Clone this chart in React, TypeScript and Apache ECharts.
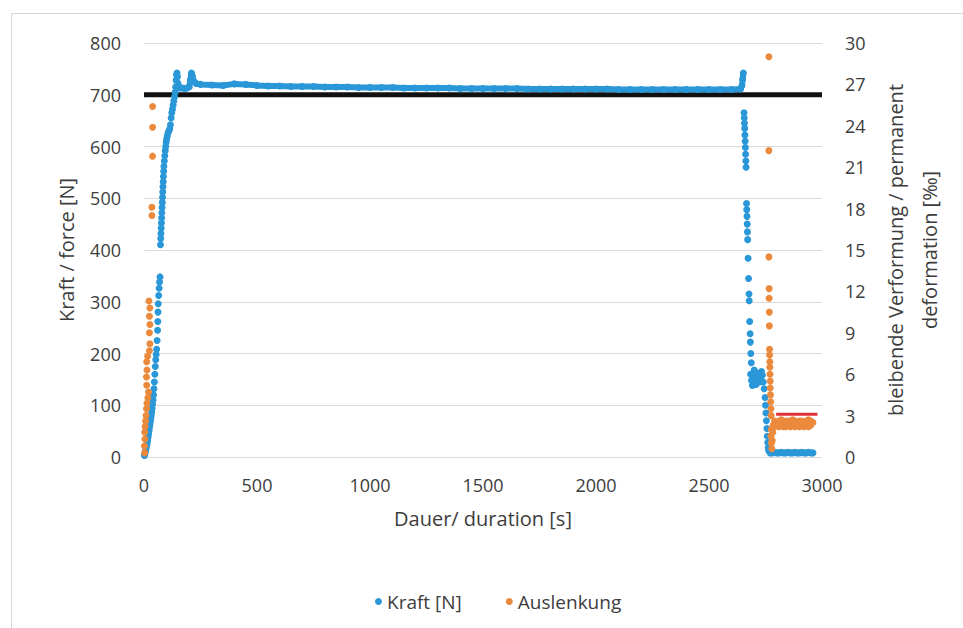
import React, { useEffect, useRef } from "react";
import * as echarts from "echarts";

// ---- data ----
const xTicks = [0, 500, 1000, 1500, 2000, 2500, 3000];
const forceTicks = [0, 100, 200, 300, 400, 500, 600, 700, 800];
const deformTicks = [0, 3, 6, 9, 12, 15, 18, 21, 24, 27, 30];

// Kraft [N]: loading ramp (time s, force N)
const kraftRamp: number[][] = [
  [2, 3], [4, 6], [6, 10], [8, 14], [10, 18], [12, 22], [14, 27], [16, 32], [18, 38], [20, 44],
  [22, 50], [24, 56], [26, 62], [28, 68], [30, 74], [32, 80], [34, 87], [36, 94], [38, 102], [40, 110],
  [42, 120], [44, 132], [46, 145], [48, 160], [50, 175], [52, 188], [54, 198], [56, 208], [58, 225],
  [60, 245], [61, 262], [62, 280], [63, 296], [65, 312], [67, 326], [69, 338], [71, 348],
  [73, 410], [74, 422], [75, 432], [76, 442], [77, 452], [78, 462], [79, 472], [80, 482], [81, 492],
  [82, 502], [83, 512], [84, 522], [85, 532], [86, 542], [87, 552], [88, 562], [90, 572], [92, 582],
  [94, 592], [96, 600], [98, 608], [100, 614], [103, 620], [106, 626], [110, 630], [114, 634],
  [117, 642], [120, 655], [123, 665], [126, 672], [129, 680], [132, 688], [135, 696], [138, 705],
  [140, 715], [142, 728], [144, 738], [146, 742], [148, 735]
];

// Kraft [N]: holding plateau
const kraftPlateau: number[][] = [
  [150, 722], [155, 715], [160, 713], [170, 713], [180, 712], [190, 713], [200, 715], [205, 728],
  [210, 742], [214, 736], [220, 726], [230, 722], [250, 720], [300, 719], [350, 718], [400, 721],
  [450, 720], [500, 718], [550, 717], [600, 717], [650, 716], [700, 716], [750, 716], [800, 715],
  [850, 715], [900, 715], [950, 714], [1000, 714], [1050, 714], [1100, 714], [1150, 713], [1200, 713],
  [1250, 713], [1300, 713], [1350, 713], [1400, 712], [1450, 712], [1500, 712], [1550, 712],
  [1600, 712], [1650, 712], [1700, 711], [1750, 711], [1800, 711], [1850, 711], [1900, 711],
  [1950, 711], [2000, 711], [2050, 711], [2100, 710], [2150, 710], [2200, 710], [2250, 710],
  [2300, 710], [2350, 710], [2400, 710], [2450, 710], [2500, 710], [2550, 710], [2600, 710],
  [2640, 711], [2646, 718], [2649, 730], [2652, 742]
];

// Kraft [N]: unloading
const kraftDrop: number[][] = [
  [2655, 665], [2656, 655], [2657, 645], [2658, 635], [2659, 622], [2660, 610], [2661, 598],
  [2662, 585], [2663, 572], [2664, 560], [2666, 490], [2667, 478], [2668, 465], [2669, 450],
  [2670, 435], [2671, 420], [2673, 384], [2675, 345], [2677, 315], [2678, 302], [2680, 262],
  [2682, 238], [2683, 222], [2685, 200], [2687, 182], [2684, 160], [2688, 148], [2692, 138],
  [2696, 155], [2700, 168], [2704, 152], [2708, 140], [2712, 150], [2716, 162], [2720, 155],
  [2724, 145], [2728, 152], [2732, 165], [2736, 158], [2740, 145], [2744, 132], [2748, 115],
  [2750, 100], [2752, 85], [2754, 70], [2756, 55], [2758, 40], [2760, 28], [2762, 18], [2764, 12]
];

// Kraft [N]: unloaded rest
const kraftRest: number[][] = [
  [2770, 8], [2780, 8], [2790, 9], [2800, 8], [2810, 8], [2820, 9], [2830, 8], [2840, 8],
  [2850, 9], [2860, 8], [2870, 8], [2880, 9], [2890, 8], [2900, 8], [2910, 9], [2920, 8],
  [2930, 8], [2940, 9], [2950, 8], [2960, 8]
];

// Auslenkung [‰] (right axis)
const auslenkungStart: number[][] = [
  [3, 0.3], [2, 0.8], [4, 1.3], [3, 1.8], [5, 2.2], [7, 2.6], [9, 3.0], [11, 3.5], [13, 3.9],
  [17, 4.3], [20, 4.7], [12, 5.2], [11, 5.8], [13, 6.3], [12, 6.9], [16, 7.3], [24, 7.7],
  [26, 8.2], [24, 9.0], [26, 9.6], [24, 10.2], [26, 10.8], [22, 11.3], [35, 17.5], [35, 18.1],
  [38, 21.8], [38, 23.9], [38, 25.4]
];

const auslenkungEnd: number[][] = [
  [2765, 29.0], [2765, 22.2], [2765, 14.5], [2766, 12.2], [2766, 11.5], [2767, 10.5], [2767, 9.5],
  [2768, 7.8], [2768, 7.4], [2769, 6.9], [2769, 6.5], [2770, 6.0], [2771, 5.5], [2771, 5.0],
  [2772, 4.5], [2773, 4.0], [2774, 3.5], [2775, 3.0], [2776, 2.0], [2774, 1.5], [2776, 1.0],
  [2778, 0.6], [2780, 1.2], [2782, 1.8], [2784, 2.3],
  [2790, 2.6], [2800, 2.5], [2810, 2.6], [2820, 2.7], [2830, 2.5], [2840, 2.6], [2850, 2.6],
  [2860, 2.5], [2870, 2.7], [2880, 2.6], [2890, 2.5], [2900, 2.6], [2910, 2.6], [2920, 2.5],
  [2930, 2.6], [2940, 2.7], [2950, 2.6], [2960, 2.5],
  [2790, 2.2], [2800, 2.3], [2810, 2.2], [2820, 2.3], [2830, 2.2], [2840, 2.2], [2850, 2.3],
  [2860, 2.2], [2870, 2.3], [2880, 2.2], [2890, 2.3], [2900, 2.2], [2910, 2.3], [2920, 2.2],
  [2930, 2.3], [2940, 2.2], [2950, 2.3]
];

// reference lines
const targetForce: number[][] = [[0, 700], [3000, 700]];
const limitDeform: number[][] = [[2797, 3.1], [2980, 3.1]];

const BLUE = "#2a97d8";
const ORANGE = "#eb8a3d";
const TEXT = "#3d3d3d";
const FONT = "'Open Sans', 'Noto Sans', sans-serif";

export default function App() {
  const ref = useRef<HTMLDivElement>(null);
  useEffect(() => {
    if (!ref.current) return;
    const chart = echarts.init(ref.current, null, { renderer: "svg" });
    chart.setOption({
      animation: false,
      backgroundColor: "#ffffff",
      textStyle: { fontFamily: FONT },
      graphic: [
        {
          type: "rect",
          shape: { x: 11.5, y: 13.5, width: 1000, height: 700 },
          style: { fill: "none", stroke: "#d6d6d6", lineWidth: 1 },
          silent: true,
          z: -1
        }
      ],
      grid: { left: 144, right: 141, top: 43, bottom: 171 },
      legend: {
        data: ["Kraft [N]", "Auslenkung"],
        left: 370,
        top: 587,
        icon: "circle",
        itemWidth: 7,
        itemHeight: 7,
        itemGap: 44,
        textStyle: { fontFamily: FONT, fontSize: 19, color: TEXT }
      },
      xAxis: {
        type: "value",
        min: xTicks[0],
        max: xTicks[xTicks.length - 1],
        interval: 500,
        axisLine: { show: false },
        axisTick: { show: false },
        splitLine: { show: false },
        axisLabel: {
          fontFamily: FONT,
          fontSize: 18,
          color: TEXT,
          margin: 19,
          formatter: (v: number) => String(v)
        },
        name: "Dauer/ duration [s]",
        nameLocation: "middle",
        nameGap: 51,
        nameTextStyle: { fontFamily: FONT, fontSize: 20, color: TEXT }
      },
      yAxis: [
        {
          type: "value",
          min: forceTicks[0],
          max: forceTicks[forceTicks.length - 1],
          interval: 100,
          axisLine: { show: false },
          axisTick: { show: false },
          splitLine: { show: true, lineStyle: { color: "#dadada", width: 1 } },
          axisLabel: { fontFamily: FONT, fontSize: 18, color: TEXT, margin: 23 },
          name: "Kraft / force [N]",
          nameLocation: "middle",
          nameGap: 68,
          nameTextStyle: { fontFamily: FONT, fontSize: 20, color: TEXT }
        },
        {
          type: "value",
          position: "right",
          min: deformTicks[0],
          max: deformTicks[deformTicks.length - 1],
          interval: 3,
          axisLine: { show: false },
          axisTick: { show: false },
          splitLine: { show: false },
          axisLabel: { fontFamily: FONT, fontSize: 18, color: TEXT, margin: 23 },
          name: "bleibende Verformung / permanent\ndeformation [‰]",
          nameLocation: "middle",
          nameGap: 56,
          nameTextStyle: { fontFamily: FONT, fontSize: 20, color: TEXT, lineHeight: 34, align: "center" }
        }
      ],
      series: [
        {
          name: "Soll",
          type: "line",
          data: targetForce,
          yAxisIndex: 0,
          symbol: "none",
          lineStyle: { color: "#111111", width: 5 },
          silent: true,
          z: 1
        },
        {
          name: "Kraft band",
          type: "line",
          data: kraftPlateau,
          yAxisIndex: 0,
          symbol: "none",
          lineStyle: { color: BLUE, width: 6 },
          z: 2
        },
        {
          name: "Kraft [N]",
          type: "scatter",
          data: [...kraftRamp, ...kraftPlateau, ...kraftDrop, ...kraftRest],
          yAxisIndex: 0,
          symbol: "circle",
          symbolSize: 7,
          itemStyle: { color: BLUE, opacity: 1 },
          z: 3
        },
        {
          name: "Grenze",
          type: "line",
          data: limitDeform,
          yAxisIndex: 1,
          symbol: "none",
          lineStyle: { color: "#e03038", width: 3 },
          z: 4
        },
        {
          name: "Auslenkung",
          type: "scatter",
          data: [...auslenkungStart, ...auslenkungEnd],
          yAxisIndex: 1,
          symbol: "circle",
          symbolSize: 7,
          itemStyle: { color: ORANGE, opacity: 1 },
          z: 5
        }
      ]
    });
    return () => chart.dispose();
  }, []);
  return (
    <div
      ref={ref}
      style={{ position: "fixed", left: 0, top: 0, width: 963, height: 628 }}
    />
  );
}
